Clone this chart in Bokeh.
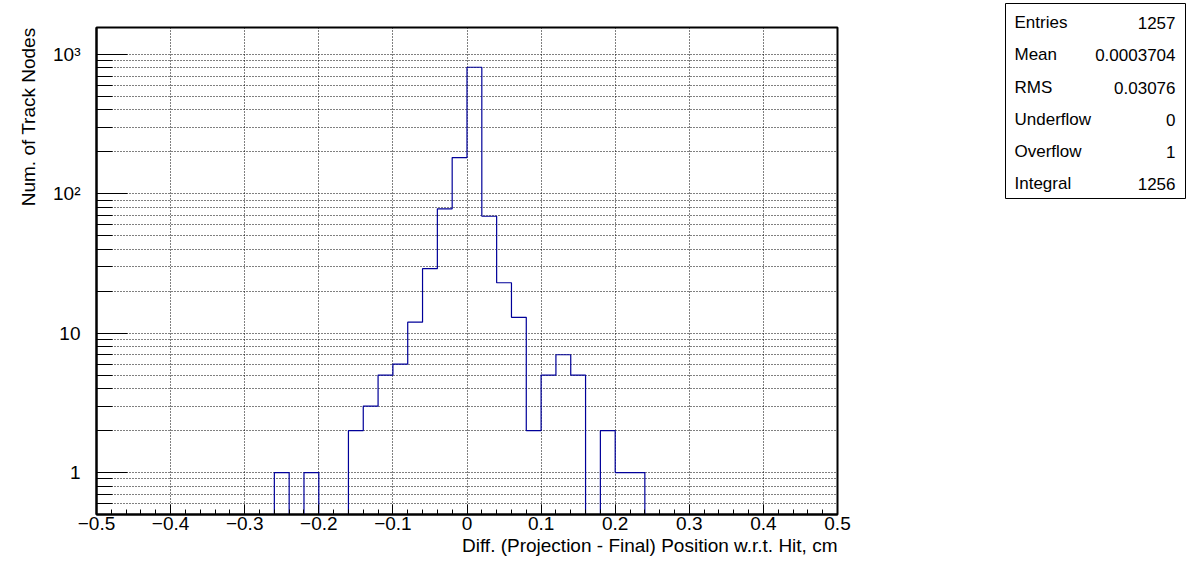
import numpy as np
from bokeh.plotting import figure
from bokeh.models import Range1d, FixedTicker, Title, CustomJSTickFormatter
from bokeh.layouts import row
from bokeh.embed import file_html
from bokeh.resources import INLINE
from bokeh.core.properties import value

# ---------------- data ----------------
x_min = -0.5
x_max = 0.5
n_bins = 50
counts = [0, 0, 0, 0, 0, 0, 0, 0, 0, 0,
          0, 0, 1, 0, 1, 0, 0, 2, 3, 5,
          6, 12, 29, 78, 182, 809, 69, 23, 13, 2,
          5, 7, 5, 0, 2, 1, 1, 0, 0, 0,
          0, 0, 0, 0, 0, 0, 0, 0, 0, 0]

x_tick_values = [-0.5, -0.4, -0.3, -0.2, -0.1, 0.0, 0.1, 0.2, 0.3, 0.4, 0.5]
x_tick_labels = ["\u22120.5", "\u22120.4", "\u22120.3", "\u22120.2", "\u22120.1", "0",
                 "0.1", "0.2", "0.3", "0.4", "0.5"]
y_tick_values = [1, 10, 100, 1000]
y_tick_labels = ["1", "10", "10\u00b2", "10\u00b3"]
y_minor_values = [0.6, 0.7, 0.8, 0.9, 2, 3, 4, 5, 6, 7, 8, 9,
                  20, 30, 40, 50, 60, 70, 80, 90,
                  200, 300, 400, 500, 600, 700, 800, 900]

stat_names = ["Entries", "Mean", "RMS", "Underflow", "Overflow", "Integral"]
stat_values = ["1257", "0.0003704", "0.03076", "0", "1", "1256"]

x_title = "Diff. (Projection - Final) Position w.r.t. Hit, cm"
y_title = "Num. of Track Nodes"

FONT = "Liberation Sans"
LINE_COLOR = "#000099"
Y_LOW, Y_HIGH = 0.5, 1560

# ---------------- histogram path ----------------
edges = np.linspace(x_min, x_max, n_bins + 1)
c = np.array(counts, dtype=float)
c_draw = np.where(c > 0, c, Y_LOW)
xs = np.repeat(edges, 2)[1:-1]
ys = np.repeat(c_draw, 2)

p = figure(width=860, height=570,
           x_range=Range1d(x_min, x_max), y_range=Range1d(Y_LOW, Y_HIGH),
           y_axis_type="log", toolbar_location=None, output_backend="svg",
           min_border_left=96, min_border_right=23, min_border_top=27,
           min_border_bottom=56)
p.frame_align = False
p.background_fill_color = "white"
p.border_fill_color = "white"
p.outline_line_color = "black"
p.outline_line_width = 2

p.line(xs, ys, line_color=LINE_COLOR, line_width=1.2)

fmt_code = """
let best = 0;
for (let i = 0; i < vals.length; i++) {
  if (Math.abs(vals[i] - tick) < Math.abs(vals[best] - tick)) best = i;
}
return labs[best];
"""
x_minor = [round(v, 2) for v in np.arange(x_min, x_max + 1e-9, 0.02)]
p.xaxis.ticker = FixedTicker(ticks=x_tick_values, minor_ticks=x_minor)
p.xaxis.formatter = CustomJSTickFormatter(args=dict(vals=x_tick_values, labs=x_tick_labels), code=fmt_code)
p.yaxis.ticker = FixedTicker(ticks=y_tick_values, minor_ticks=y_minor_values)
p.yaxis.formatter = CustomJSTickFormatter(args=dict(vals=y_tick_values, labs=y_tick_labels), code=fmt_code)

for ax in (p.xaxis, p.yaxis):
    ax.axis_line_color = "black"
    ax.axis_line_width = 2
    ax.major_tick_out = 0
    ax.minor_tick_out = 0
    ax.major_tick_line_color = "black"
    ax.minor_tick_line_color = "black"
    ax.major_label_text_font = FONT
    ax.major_label_text_font_size = "19px"
    ax.major_label_text_color = "black"

p.xaxis.major_tick_in = 10
p.xaxis.minor_tick_in = 5
p.xaxis.major_label_standoff = 2
p.yaxis.major_tick_in = 31
p.yaxis.minor_tick_in = 16
p.yaxis.major_label_standoff = 16

p.xgrid.grid_line_color = "black"
p.xgrid.grid_line_dash = "1 2"
p.xgrid.grid_line_width = 1
p.ygrid.grid_line_color = "black"
p.ygrid.grid_line_dash = "1 2"
p.ygrid.minor_grid_line_color = "black"
p.ygrid.minor_grid_line_dash = "1 2"

p.add_layout(Title(text=x_title, align="right", text_font=FONT, text_font_size="19px",
                   text_color="black", text_font_style="normal", standoff=0), "below")
p.add_layout(Title(text=y_title, align="right", text_font=FONT, text_font_size="19px",
                   text_color="black", text_font_style="normal", standoff=24), "left")

# ---------------- stats box ----------------
s = figure(width=330, height=570, x_range=Range1d(0, 330), y_range=Range1d(570, 0),
           toolbar_location=None, output_backend="svg", min_border=0)
s.frame_align = False
s.axis.visible = False
s.grid.visible = False
s.outline_line_color = None
s.background_fill_color = "white"
s.border_fill_color = "white"
s.quad(left=[145], right=[325], top=[3], bottom=[198], fill_color="white",
       line_color="black", line_width=1)
row_y = [22, 54, 87, 119, 151, 183]
s.text(x=[154] * len(stat_names), y=row_y, text=stat_names, text_align="left",
       text_baseline="middle", text_font=value(FONT), text_font_size="17px", text_color="black")
s.text(x=[315] * len(stat_values), y=row_y, text=stat_values, text_align="right",
       text_baseline="middle", text_font=value(FONT), text_font_size="17px", text_color="black")

layout = row(p, s)
open("out.html", "w").write(file_html(layout, INLINE))
